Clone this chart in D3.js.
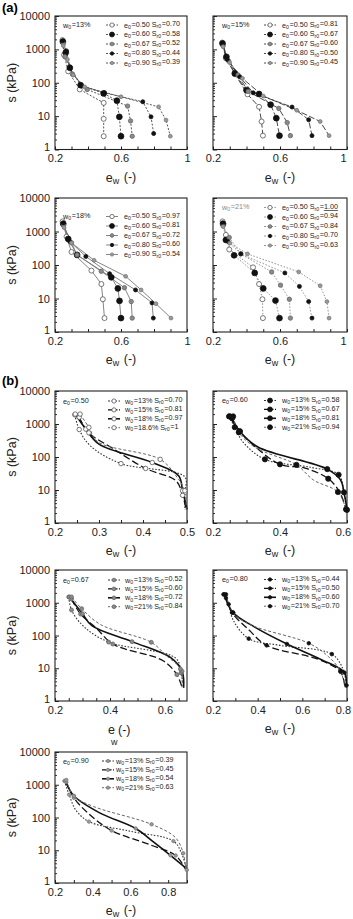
<!DOCTYPE html>
<html>
<head>
<meta charset="utf-8">
<script src="https://cdn.jsdelivr.net/npm/d3@7"></script>
<style>
  body { margin: 0; background: #fff; }
  text { font-family: "Liberation Sans", Arial, sans-serif; }
</style>
</head>
<body>
<div id="chart"></div>
<script>
// ---- data ----
const waterContents = [13, 15, 18, 21];          // w0 (%)
const voidRatios = [0.50, 0.60, 0.67, 0.80, 0.90]; // e0
// degree of saturation, one row per w0, one column per e0
const srW13 = ["0.70", "0.58", "0.52", "0.44", "0.39"];
const srW15 = ["0.81", "0.67", "0.60", "0.50", "0.45"];
const srW18 = ["0.97", "0.81", "0.72", "0.60", "0.54"];
const srW21 = ["1.00", "0.94", "0.84", "0.70", "0.63"];

// [e_w, s (kPa)] for every (w0, e0)
const curvesW13 = [
  [[0.245, 1900], [0.255, 680], [0.28, 220], [0.35, 63], [0.495, 25], [0.495, 8.3], [0.495, 2.5]],
  [[0.248, 1700], [0.265, 800], [0.29, 280], [0.355, 85], [0.495, 48], [0.575, 29], [0.59, 9.5], [0.60, 2.5]],
  [[0.25, 1500], [0.26, 600], [0.307, 180], [0.395, 63], [0.64, 20], [0.658, 7.2], [0.668, 2.5]],
  [[0.247, 1800], [0.27, 900], [0.29, 300], [0.36, 80], [0.50, 50], [0.732, 27], [0.782, 9.5], [0.798, 3]],
  [[0.25, 1300], [0.275, 500], [0.31, 170], [0.38, 75], [0.60, 38], [0.828, 19], [0.873, 7.6], [0.899, 2.5]]
];
const curvesW15 = [
  [[0.255, 1600], [0.277, 540], [0.332, 180], [0.406, 45], [0.475, 19], [0.49, 6.9], [0.498, 2.6]],
  [[0.257, 1500], [0.28, 600], [0.33, 190], [0.40, 60], [0.475, 46], [0.544, 22], [0.578, 8.7], [0.597, 2.6]],
  [[0.26, 1300], [0.293, 450], [0.35, 170], [0.41, 55], [0.593, 17], [0.643, 6.4], [0.662, 2.6]],
  [[0.258, 1400], [0.285, 500], [0.36, 150], [0.44, 50], [0.672, 18.7], [0.771, 7.8], [0.791, 2.6]],
  [[0.26, 1200], [0.30, 400], [0.376, 135], [0.50, 40], [0.70, 15], [0.84, 6.9], [0.893, 2.6]]
];
const curvesW18 = [
  [[0.246, 2000], [0.27, 700], [0.30, 245], [0.421, 68], [0.481, 27], [0.49, 9.5], [0.50, 2.6]],
  [[0.25, 1700], [0.28, 600], [0.334, 200], [0.541, 43], [0.581, 20], [0.591, 8.5], [0.60, 2.6]],
  [[0.252, 1500], [0.30, 460], [0.334, 200], [0.48, 65], [0.621, 21], [0.662, 8.1], [0.668, 2.6]],
  [[0.25, 1800], [0.29, 500], [0.387, 180], [0.531, 55], [0.688, 18], [0.788, 7.4], [0.796, 2.6]],
  [[0.255, 1300], [0.30, 460], [0.437, 138], [0.628, 46], [0.722, 18], [0.812, 7], [0.903, 2.6]]
];
const curvesW21 = [
  [[0.257, 2000], [0.277, 790], [0.297, 290], [0.439, 85], [0.475, 27], [0.495, 9.5], [0.498, 2.6]],
  [[0.26, 1700], [0.277, 560], [0.326, 195], [0.449, 58], [0.50, 20], [0.573, 8.7], [0.597, 2.6]],
  [[0.26, 1500], [0.297, 660], [0.366, 215], [0.55, 62], [0.603, 25], [0.656, 9.5], [0.662, 2.6]],
  [[0.258, 1800], [0.29, 500], [0.366, 215], [0.629, 58], [0.716, 23], [0.771, 8.1], [0.791, 2.6]],
  [[0.26, 1400], [0.30, 450], [0.406, 215], [0.712, 62], [0.84, 24], [0.88, 8.1], [0.893, 2.6]]
];
const curvesByW = [curvesW13, curvesW15, curvesW18, curvesW21];
const srByW = [srW13, srW15, srW18, srW21];

const yTicks = [1, 10, 100, 1000, 10000];
const xTicksA = [0.2, 0.6, 1];
const xTicksB = [[0.2, 0.3, 0.4, 0.5], [0.2, 0.4, 0.6], [0.2, 0.4, 0.6], [0.2, 0.4, 0.6, 0.8], [0.2, 0.4, 0.6, 0.8]];
const xMaxB = [0.5, 0.6, 0.68, 0.8, 0.9];

// ---- styles ----
const markerStyles = [
  { r: 2.5, fill: "#fff", stroke: "#555" },
  { r: 2.9, fill: "#111", stroke: "#111" },
  { r: 2.2, fill: "#8a8a8a", stroke: "#666" },
  { r: 2.0, fill: "#111", stroke: "#111" },
  { r: 1.9, fill: "#9a9a9a", stroke: "#777" }
];
const lineA = [
  { dash: "2,1.6", color: "#444", w: 0.9 },
  { dash: "6,2.2", color: "#333", w: 0.9 },
  { dash: null, color: "#777", w: 0.9 },
  { dash: "1.6,1.6", color: "#999", w: 1 }
];
const lineB = [
  { dash: "1.6,1.6", color: "#333", w: 1.1 },
  { dash: "7,3", color: "#111", w: 1.3 },
  { dash: null, color: "#111", w: 1.6 },
  { dash: "3,2", color: "#666", w: 1 }
];

const W = 353, H = 919;
const colX = [[55, 187], [213, 347]];
const rowY = [[16, 149.5], [198, 332], [391, 523], [570, 701], [752, 883]];

const svg = d3.select("#chart").append("svg")
  .attr("width", W).attr("height", H);

// text with _{sub} and ^{underlined} parts
function rich(sel, str) {
  const parts = str.split(/(_\{[^}]*\}|\^\{[^}]*\})/).filter(p => p.length);
  parts.forEach(p => {
    if (p.startsWith("_{")) {
      sel.append("tspan").attr("font-size", "0.72em").attr("dy", "0.25em").text(p.slice(2, -1));
      sel.append("tspan").attr("dy", "-0.25em").text("\u200a");
    } else if (p.startsWith("^{")) {
      sel.append("tspan").attr("text-decoration", "underline").text(p.slice(2, -1));
    } else {
      sel.append("tspan").text(p);
    }
  });
  return sel;
}

function drawFrame(row, col, xDomain, xLabels, minorStep, fmt) {
  const [l, r] = colX[col], [t, b] = rowY[row];
  const x = d3.scaleLinear().domain(xDomain).range([l, r]);
  const y = d3.scaleLog().domain([1, 10000]).range([b, t]);
  const g = svg.append("g");

  // x minor ticks
  const minor = d3.range(xDomain[0], xDomain[1] + 1e-6, minorStep);
  g.append("g").attr("transform", `translate(0,${b})`)
    .call(d3.axisBottom(x).tickValues(minor).tickSize(-3).tickFormat(""))
    .call(s => s.select(".domain").remove())
    .selectAll("line").attr("stroke", "#222");
  const xa = g.append("g").attr("transform", `translate(0,${b})`)
    .call(d3.axisBottom(x).tickValues(xLabels).tickSize(0).tickPadding(5).tickFormat(fmt))
    .call(s => s.select(".domain").remove())
    .attr("font-size", 11).attr("font-family", "Liberation Sans, Arial, sans-serif");
  xa.selectAll("text").attr("fill", "#222")
    .attr("dx", d => (col === 1 && x(d) > 340 ? -4 : 0));

  // y ticks
  const yMinor = [];
  [1, 10, 100, 1000].forEach(d => d3.range(2, 10).forEach(k => yMinor.push(d * k)));
  g.append("g").attr("transform", `translate(${l},0)`)
    .call(d3.axisLeft(y).tickValues(yMinor).tickSize(-2).tickFormat(""))
    .call(s => s.select(".domain").remove())
    .selectAll("line").attr("stroke", "#333");
  const ya = g.append("g").attr("transform", `translate(${l},0)`)
    .call(d3.axisLeft(y).tickValues(yTicks).tickSize(-4).tickPadding(5)
      .tickFormat(col === 0 ? d3.format("d") : ""))
    .call(s => s.select(".domain").remove())
    .attr("font-size", 11).attr("font-family", "Liberation Sans, Arial, sans-serif");
  ya.selectAll("text").attr("fill", "#222")
    .attr("dy", d => (d === 1 ? "0.1em" : "0.32em"));
  ya.selectAll("line").attr("stroke", "#222");

  g.append("rect").attr("x", l).attr("y", t).attr("width", r - l).attr("height", b - t)
    .attr("fill", "none").attr("stroke", "#222").attr("stroke-width", 1.1);

  if (col === 0) {
    g.append("text")
      .attr("transform", `translate(16,${(t + b) / 2}) rotate(-90)`)
      .attr("text-anchor", "middle").attr("font-size", 12.5).attr("fill", "#222")
      .call(rich, "s (kPa)");
  }
  const clipId = `clip${row}${col}`;
  svg.append("clipPath").attr("id", clipId).append("rect")
    .attr("x", l - 4).attr("y", t).attr("width", r - l + 8).attr("height", b - t + 4);
  const plot = g.append("g").attr("clip-path", `url(#${clipId})`);
  return { x, y, g, plot, l, r, t, b };
}

function xLabel(f, weird) {
  const cx = (f.l + f.r) / 2;
  if (weird) {
    f.g.append("text").attr("x", cx - 13).attr("y", f.b + 33).attr("font-size", 12.5).attr("fill", "#222").text("e");
    f.g.append("text").attr("x", cx - 10).attr("y", f.b + 44).attr("font-size", 9).attr("fill", "#222").text("w");
    f.g.append("text").attr("x", cx - 3).attr("y", f.b + 33).attr("font-size", 12.5).attr("fill", "#222").text("(-)");
  } else {
    f.g.append("text").attr("x", cx).attr("y", f.b + 32).attr("text-anchor", "middle")
      .attr("font-size", 12.5).attr("fill", "#222").call(rich, "e_{w} (-)");
  }
}

function drawMarkers(sel, pts, f, ms, scale) {
  sel.selectAll(null).data(pts).join("circle")
    .attr("cx", d => f.x(d[0])).attr("cy", d => f.y(d[1]))
    .attr("r", ms.r * scale).attr("fill", ms.fill).attr("stroke", ms.stroke).attr("stroke-width", 0.8);
}

function legend(f, title, titleColor, dyFirst, items, sampleX, textX, step) {
  f.g.append("text").attr("x", f.l + (f.l < 100 ? 8 : 9)).attr("y", f.t + dyFirst + 2.5)
    .attr("font-size", 7.2).attr("fill", titleColor).call(rich, title);
  items.forEach((it, i) => {
    const yy = f.t + dyFirst + i * step;
    const ln = f.g.append("line").attr("x1", sampleX).attr("x2", sampleX + 12)
      .attr("y1", yy).attr("y2", yy).attr("stroke", it.ls.color)
      .attr("stroke-width", it.ls.w);
    if (it.ls.dash) ln.attr("stroke-dasharray", it.ls.dash === "7,3" ? "4,1.5" : "2,1.5");
    f.g.append("circle").attr("cx", sampleX + 6).attr("cy", yy).attr("r", it.ms.r * 0.85)
      .attr("fill", it.ms.fill).attr("stroke", it.ms.stroke).attr("stroke-width", 0.8);
    f.g.append("text").attr("x", textX).attr("y", yy + 2.5).attr("font-size", 7.2)
      .attr("fill", "#222").call(rich, it.label);
  });
}

// ---- panel (a): one plot per w0 ----
const lineLin = (f) => d3.line().x(d => f.x(d[0])).y(d => f.y(d[1]));
const aLegendDy = [9, 9, 18.5, 9.5];
waterContents.forEach((w, wi) => {
  const row = Math.floor(wi / 2), col = wi % 2;
  const f = drawFrame(row, col, [0.2, 1], xTicksA, 0.1, d => d === 1 ? "1" : d3.format(".1f")(d));
  xLabel(f, false);
  const ls = lineA[wi];
  curvesByW[wi].forEach((pts, ei) => {
    const p = f.plot.append("path").attr("d", lineLin(f)(pts)).attr("fill", "none")
      .attr("stroke", ls.color).attr("stroke-width", ls.w);
    if (ls.dash) p.attr("stroke-dasharray", ls.dash);
  });
  curvesByW[wi].forEach((pts, ei) => drawMarkers(f.plot, pts, f, markerStyles[ei], 1));
  const items = voidRatios.map((e, ei) => ({
    ls, ms: markerStyles[ei],
    label: `e_{0}=${e.toFixed(2)} S_{r0}=` + (wi === 3 && ei === 0 ? `^{${srByW[wi][ei]}}` : srByW[wi][ei])
  }));
  legend(f, `w_{0}=${w}%`, wi === 3 ? "#888" : "#222", aLegendDy[wi], items,
    col === 0 ? 106 : 264, col === 0 ? 124 : 282, 9.5);
});

// ---- panel (b): one plot per e0 ----
const lineSmooth = (f) => d3.line().x(d => f.x(d[0])).y(d => f.y(d[1])).curve(d3.curveCatmullRom.alpha(0.5));
const bRow = [2, 2, 3, 3, 4], bCol = [0, 1, 0, 1, 0];
const bLegendDy = [10, 9.5, 10, 9.5, 9];
voidRatios.forEach((e, ei) => {
  const row = bRow[ei], col = bCol[ei];
  const f = drawFrame(row, col, [0.2, xMaxB[ei]], xTicksB[ei], ei === 3 || ei === 4 ? 0.1 : 0.05, d3.format(".1f"));
  xLabel(f, ei === 2);
  waterContents.forEach((w, wi) => {
    const ls = lineB[wi];
    const pts = curvesByW[wi][ei];
    const p = f.plot.append("path").attr("d", lineSmooth(f)(pts)).attr("fill", "none")
      .attr("stroke", ls.color).attr("stroke-width", ls.w);
    if (ls.dash) p.attr("stroke-dasharray", ls.dash);
  });
  waterContents.forEach((w, wi) => {
    const pts = curvesByW[wi][ei].filter((d, i) => i === 0 || i % 2 === 1);
    drawMarkers(f.plot, pts, f, markerStyles[ei], 0.9);
  });
  const items = waterContents.map((w, wi) => ({
    ls: lineB[wi], ms: markerStyles[ei],
    label: (ei === 0 && wi === 3) ? "w_{0}=18.6% S_{r0}=1" : `w_{0}=${w}% S_{r0}=${srByW[wi][ei]}`
  }));
  const sx = ei === 4 ? 102 : (col === 0 ? 108 : 264);
  const tx = ei === 4 ? 116 : (col === 0 ? 125 : 282);
  legend(f, `e_{0}=${e.toFixed(2)}`, "#222", bLegendDy[ei], items, sx, tx, 8.9);
});

// panel letters
svg.append("text").attr("x", 2).attr("y", 12).attr("font-family", "Liberation Serif, serif")
  .attr("font-weight", "bold").attr("font-size", 13).text("(a)");
svg.append("text").attr("x", 2).attr("y", 385).attr("font-family", "Liberation Serif, serif")
  .attr("font-weight", "bold").attr("font-size", 13).text("(b)");
</script>
</body>
</html>
